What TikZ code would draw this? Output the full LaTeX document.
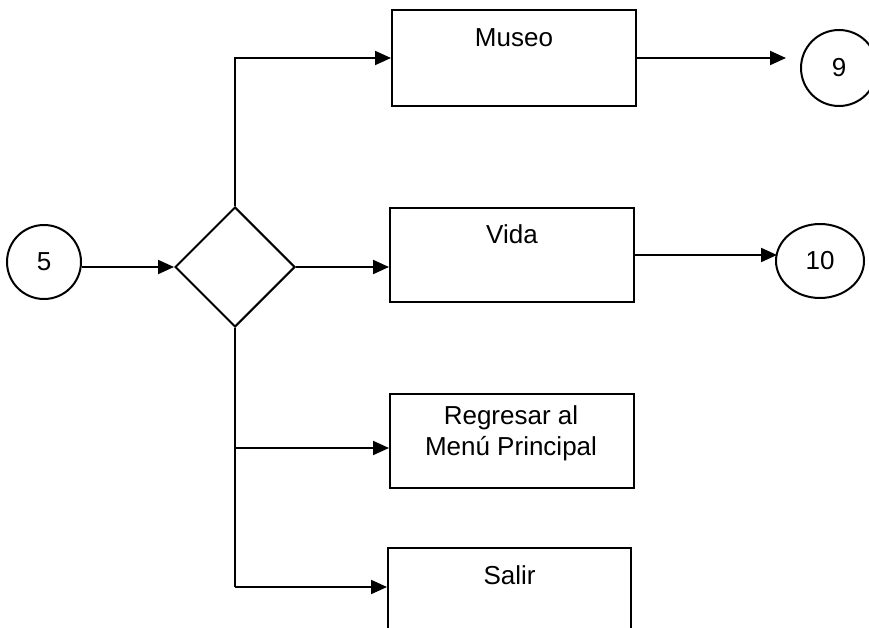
\documentclass[tikz,border=0pt]{standalone}
\usepackage{fontspec}
\setmainfont{Liberation Sans}
\usetikzlibrary{arrows.meta,shapes.geometric}
\begin{document}
\begin{tikzpicture}[x=1pt,y=-1pt,
  every node/.style={font=\fontsize{26}{31}\selectfont},
  ln/.style={line width=2pt},
  arr/.style={ln,-{Triangle[length=16pt,width=14pt]}},
  box/.style={draw,line width=2pt,rectangle,inner sep=0pt},
  conn/.style={draw,line width=2pt,inner sep=0pt},
  txt/.style={inner sep=0pt,align=center}]
\useasboundingbox (0,0) rectangle (869,628);
\clip (0,0) rectangle (869,628);
% connector circles
\node[conn,circle,minimum size=74pt] (c5) at (44,262) {5};
\node[conn,circle,minimum size=76pt] (c9) at (839,68) {9};
\node[conn,ellipse,minimum width=88pt,minimum height=74pt] (c10) at (820,261) {};
\node[txt] (t10) at (820,261) {10};
% decision
\node[conn,diamond,minimum width=120pt,minimum height=120pt] (dia) at (235,267) {};
% process boxes
\node[box,minimum width=244pt,minimum height=96pt] (museo) at (514,58) {};
\node[txt] (museoT) at (514,38) {Museo};
\node[box,minimum width=244pt,minimum height=94pt] (vida) at (512,255) {};
\node[txt] (vidaT) at (512,234) {Vida};
\node[box,minimum width=244pt,minimum height=94pt] (reg) at (512,441) {};
\node[txt] (regT) at (511,433) {Regresar al\\Menú Principal};
\node[box,minimum width=243pt,minimum height=100pt] (salir) at (509.5,598) {};
\node[txt] (salirT) at (509.5,575) {Salir};
% junction points
\coordinate (jr) at (235,448);
\coordinate (js) at (235,587);
\coordinate (e9) at (786,58);
\coordinate (e10) at (777,255);
% connectors
\draw[arr] (c5.east |- dia.west) -- (dia.west);
\draw[arr] (dia.north) |- (museo.west);
\draw[arr] (dia.east) -- (dia.east -| vida.west);
\draw[ln] (dia.south) -- (js);
\draw[arr] (jr) -- (jr -| reg.west);
\draw[arr] (js) -- (js -| salir.west);
\draw[arr] (museo.east) -- (e9);
\draw[arr] (vida.east) -- (e10);
\end{tikzpicture}
\end{document}
